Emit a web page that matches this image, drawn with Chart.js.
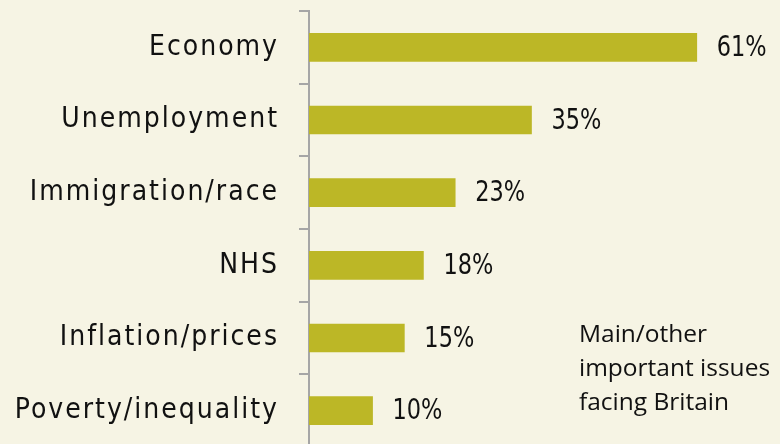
<!DOCTYPE html>
<html><head><meta charset="utf-8">
<script src="https://cdn.jsdelivr.net/npm/chart.js@4"></script>
<style>
html,body{margin:0;padding:0;background:#f6f4e4;overflow:hidden;width:780px;height:444px;}
#wrap{position:relative;width:780px;height:460px;}
</style></head>
<body><div id="wrap"><canvas id="c" width="780" height="460"></canvas></div>
<script>
const categories = ["Economy","Unemployment","Immigration/race","NHS","Inflation/prices","Poverty/inequality"];
const values = [61,35,23,18,15,10];
const valueLabels = ["61%","35%","23%","18%","15%","10%"];
const noteLines = ["Main/other","important issues","facing Britain"];

const spacingPlugin = {
  id:'spacing',
  beforeDraw(chart){ chart.ctx.letterSpacing = '2px'; },
  beforeDatasetsDraw(chart){ chart.ctx.letterSpacing = '0px'; }
};
const valuePlugin = {
  id:'valueLabels',
  afterDatasetsDraw(chart){
    const ctx = chart.ctx;
    const meta = chart.getDatasetMeta(0);
    ctx.save();
    ctx.letterSpacing = '0px';
    ctx.fillStyle = '#111';
    ctx.font = '29px "DejaVu Sans Condensed"';
    ctx.textBaseline = 'middle';
    ctx.textAlign = 'left';
    meta.data.forEach((bar,i)=>{
      ctx.save();
      ctx.translate(bar.x + 20, bar.y + 1);
      ctx.scale(0.86, 1);
      ctx.fillText(valueLabels[i], 0, 0);
      ctx.restore();
    });
    ctx.restore();
  }
};
const notePlugin = {
  id:'note',
  afterDraw(chart){
    const ctx = chart.ctx;
    ctx.save();
    ctx.letterSpacing = '0px';
    ctx.fillStyle = '#111';
    ctx.font = '24.5px "Open Sans"';
    ctx.textBaseline = 'alphabetic';
    ctx.textAlign = 'left';
    noteLines.forEach((t,i)=>ctx.fillText(t, 579, 342 + i*34));
    ctx.restore();
  }
};

new Chart(document.getElementById('c'),{
  type:'bar',
  data:{labels:categories,datasets:[{data:values,backgroundColor:'#bcb726',barThickness:28,borderWidth:0}]},
  options:{
    indexAxis:'y',
    responsive:false,
    animation:false,
    layout:{padding:{top:11,bottom:13,left:0,right:26}},
    plugins:{legend:{display:false},tooltip:{enabled:false}},
    scales:{
      x:{display:false,min:0,max:70},
      y:{
        offset:true,
        afterFit(s){ s.width = 309; s.paddingTop = 0; s.paddingBottom = 0; },
        grid:{display:true,drawOnChartArea:false,drawTicks:true,tickLength:10,color:'#a6a6a6',lineWidth:2,offset:true},
        border:{display:true,color:'#a6a6a6',width:2},
        ticks:{color:'#111',font:{family:'DejaVu Sans Condensed',size:28},padding:20}
      }
    }
  },
  plugins:[spacingPlugin,valuePlugin,notePlugin]
});
</script></body></html>
